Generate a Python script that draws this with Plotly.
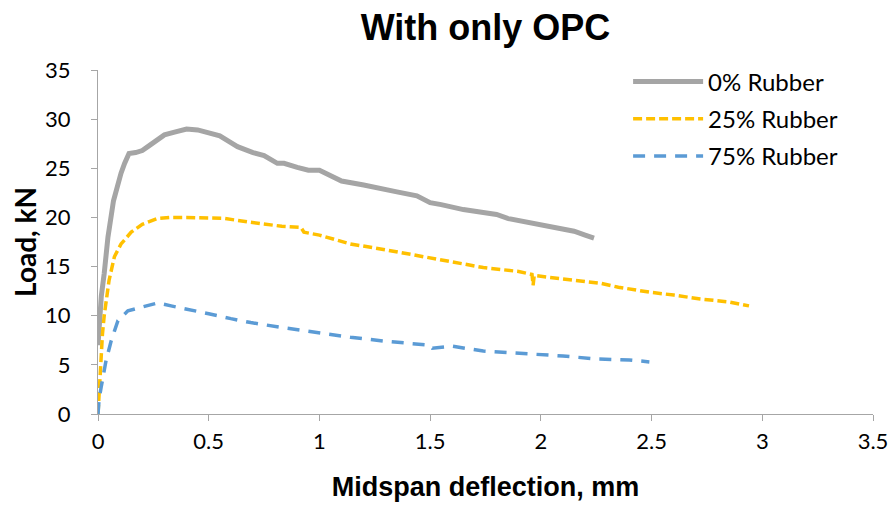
import plotly.graph_objects as go

# 0% Rubber
x0 = [0, 0.005, 0.015, 0.028, 0.045, 0.07, 0.09, 0.104, 0.12, 0.14, 0.17, 0.2, 0.225, 0.26, 0.3,
      0.35, 0.4, 0.45, 0.5, 0.55, 0.6, 0.63, 0.7, 0.75, 0.81, 0.84, 0.9, 0.95, 1.0, 1.065, 1.1,
      1.2, 1.3, 1.35, 1.44, 1.5, 1.55, 1.6, 1.65, 1.74, 1.8, 1.85, 1.9, 1.97, 2.05, 2.1, 2.15, 2.2, 2.24]
y0 = [7, 9.5, 12, 14.3, 18, 21.7, 23.5, 24.5, 25.5, 26.5, 26.6, 26.8, 27.2, 27.8, 28.4,
      28.7, 29, 28.9, 28.6, 28.3, 27.6, 27.2, 26.6, 26.3, 25.5, 25.5, 25.1, 24.8, 24.8, 24.1, 23.7,
      23.3, 22.9, 22.6, 22.2, 21.5, 21.3, 21.0, 20.8, 20.5, 20.3, 19.9, 19.7, 19.4, 19.1, 18.8, 18.6, 18.2, 17.9]

# 25% Rubber
x25 = [0, 0.006, 0.012, 0.02, 0.028, 0.036, 0.05, 0.074, 0.104, 0.15, 0.2, 0.27, 0.33, 0.4, 0.5,
       0.57, 0.69, 0.83, 0.916, 0.925, 0.93, 1.0, 1.14, 1.3, 1.44, 1.6, 1.74, 1.9, 1.96, 1.965, 1.97,
       2.04, 2.16, 2.25, 2.27, 2.35, 2.49, 2.6, 2.72, 2.85, 2.94]
y25 = [0, 3, 5.5, 8.1, 10, 11.5, 13.6, 16, 17.3, 18.5, 19.3, 19.9, 20.0, 20.0, 19.9,
       19.9, 19.5, 19.1, 19.0, 18.6, 18.5, 18.2, 17.3, 16.7, 16.1, 15.5, 14.9, 14.5, 14.2, 13.1, 14.1,
       13.9, 13.6, 13.4, 13.3, 12.9, 12.4, 12.1, 11.7, 11.4, 11.0]

# 75% Rubber
x75 = [0, 0.005, 0.014, 0.025, 0.036, 0.059, 0.09, 0.135, 0.2, 0.27, 0.33, 0.4, 0.5, 0.6, 0.69,
       0.83, 0.92, 1.14, 1.3, 1.43, 1.5, 1.51, 1.6, 1.74, 1.9, 2.1, 2.25, 2.4, 2.49]
y75 = [0, 1.5, 2.7, 4.2, 5.4, 7.4, 9.5, 10.5, 10.9, 11.3, 11.0, 10.7, 10.2, 9.7, 9.3,
       8.8, 8.5, 7.8, 7.4, 7.1, 7.0, 6.7, 6.9, 6.4, 6.2, 5.9, 5.6, 5.5, 5.3]

names = ["0% Rubber", "25% Rubber", "75% Rubber"]

fig = go.Figure()
fig.add_trace(go.Scatter(x=x0, y=y0, mode="lines", name=names[0], legendgroup="a",
                         line=dict(color="#A5A5A5", width=5)))
fig.add_trace(go.Scatter(x=x25, y=y25, mode="lines", name=names[1], legendgroup="b",
                         line=dict(color="#FFC000", width=3.5, dash="9px,4px")))
fig.add_trace(go.Scatter(x=x75, y=y75, mode="lines", name=names[2], legendgroup="c",
                         line=dict(color="#5B9BD5", width=3.5, dash="12px,9px")))

tickfont = dict(family="Lato, Open Sans, sans-serif", size=22, color="#000000")
fig.update_layout(
    width=896, height=506,
    paper_bgcolor="white", plot_bgcolor="white",
    margin=dict(l=90, r=31, t=62, b=100),
    title=dict(text="<b>With only OPC</b>", x=0.5, xanchor="center", xref="paper",
               y=0.962, yref="container", yanchor="middle",
               font=dict(family="Liberation Sans, Arial, sans-serif", size=36, color="#000000")),
    xaxis=dict(range=[0, 3.5], dtick=0.5, tick0=0, showgrid=False, zeroline=False,
               showline=True, linecolor="#A6A6A6", linewidth=1, automargin=False,
               ticks="outside", ticklen=6, tickcolor="#A6A6A6", tickfont=tickfont,
               ticklabelstandoff=2,
               title=dict(text="<b>Midspan deflection, mm</b>", standoff=23,
                          font=dict(family="Liberation Sans, Arial, sans-serif", size=27, color="#000000"))),
    yaxis=dict(range=[0, 35], dtick=5, tick0=0, showgrid=False, zeroline=False,
               showline=True, linecolor="#A6A6A6", linewidth=1, automargin=False,
               ticks="outside", ticklen=6, tickcolor="#A6A6A6", tickfont=tickfont,
               ticklabelstandoff=16,
               title=dict(text="<b>Load, kN</b>", standoff=6,
                          font=dict(family="Lato, Open Sans, sans-serif", size=28, color="#000000"))),
    legend=dict(x=0.684, y=1.0305, xanchor="left", yanchor="top", bgcolor="rgba(0,0,0,0)",
                font=dict(family="Lato, Open Sans, sans-serif", size=24, color="#000000"),
                itemwidth=70, tracegroupgap=3, traceorder="grouped"),
)

fig.write_html("out.html")
